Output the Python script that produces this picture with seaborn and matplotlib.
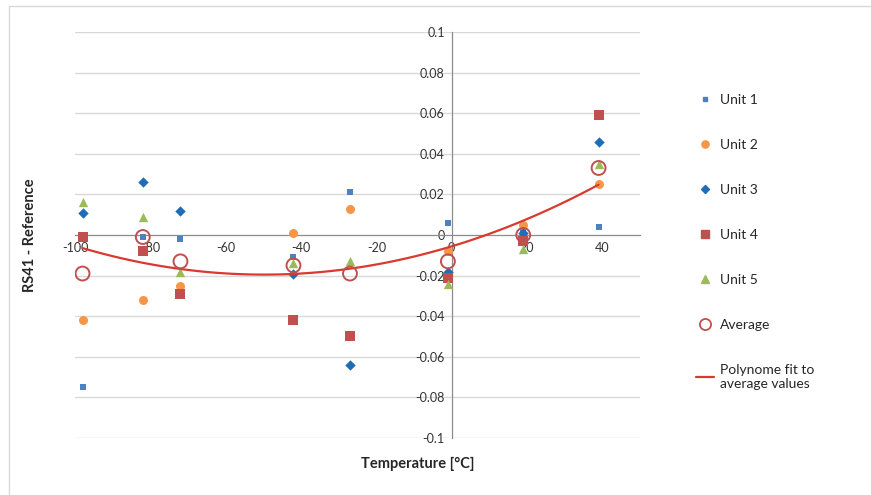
#RS41 minus reference vs temperature, 5 units + average + polynomial fit
import pandas as pd
import numpy as np
import matplotlib
matplotlib.use('Agg')
import matplotlib.pyplot as plt
import seaborn as sns
from matplotlib.patches import Rectangle
from matplotlib.lines import Line2D

sns.set_style('white')
plt.rcParams['font.family'] = ['Lato', 'DejaVu Sans']

temps = [-98, -82, -72, -42, -27, -1, 19, 39] #temperature steps in degC
unit1 = [-0.075, -0.001, -0.002, -0.011, 0.021, 0.006, 0.003, 0.004]
unit2 = [-0.042, -0.032, -0.025, 0.001, 0.013, -0.008, 0.005, 0.025]
unit3 = [0.011, 0.026, 0.012, -0.019, -0.064, -0.018, 0.001, 0.046]
unit4 = [-0.001, -0.008, -0.029, -0.042, -0.050, -0.021, -0.003, 0.059]
unit5 = [0.016, 0.009, -0.018, -0.014, -0.013, -0.024, -0.007, 0.035]
average = [-0.019, -0.001, -0.013, -0.015, -0.019, -0.013, 0.000, 0.033]
y_ticks = [-0.1, -0.08, -0.06, -0.04, -0.02, 0, 0.02, 0.04, 0.06, 0.08, 0.1]
y_labels = ['-0.1', '-0.08', '-0.06', '-0.04', '-0.02', '0', '0.02', '0.04', '0.06', '0.08', '0.1']
x_ticks = [-100, -80, -60, -40, -20, 0, 20, 40]

fig = plt.figure(figsize=(8.71, 4.95), dpi=100)
ax = fig.add_axes([0.0861, 0.1152, 0.6487, 0.8202])

#series: (name, values, marker, size, color)
series = [('Unit 1', unit1, 's', 18, '#4F81BD'),
          ('Unit 2', unit2, 'o', 42, '#F79646'),
          ('Unit 3', unit3, 'D', 28, '#1F6DB5'),
          ('Unit 4', unit4, 's', 55, '#C0504D'),
          ('Unit 5', unit5, '^', 45, '#9BBB59')]
for name, vals, mk, sz, col in series:
	sns.scatterplot(x=temps, y=vals, marker=mk, s=sz, color=col, edgecolor=col, linewidth=0, ax=ax, zorder=3)

#polynomial (2nd order) fit to the averages
sns.regplot(x=temps, y=average, order=2, scatter=False, ci=None, truncate=True, ax=ax,
	line_kws={'color': '#D9392F', 'lw': 1.6, 'zorder': 4})
sns.scatterplot(x=temps, y=average, marker='o', s=100, facecolor='none', edgecolor='#C0504D', linewidth=1.4, ax=ax, zorder=5)

ax.set_xlim(-100, 50)
ax.set_ylim(-0.1, 0.1)
for s in ['top', 'right']:
	ax.spines[s].set_visible(False)
ax.spines['left'].set_position(('data', 0))
ax.spines['bottom'].set_position(('data', 0))
for s in ['left', 'bottom']:
	ax.spines[s].set_color('#8C8C8C')
	ax.spines[s].set_linewidth(0.9)
ax.set_yticks(y_ticks)
ax.set_yticklabels(y_labels)
ax.set_xticks(x_ticks)
ax.set_xticklabels([str(t) for t in x_ticks])
ax.tick_params(axis='both', labelsize=9, colors='#8C8C8C', labelcolor='#333333', direction='inout', length=4, width=0.8)
ax.tick_params(axis='x', pad=3)
ax.tick_params(axis='y', pad=3)
for yv in y_ticks:
	if yv != 0:
		ax.axhline(yv, color='#D9D9D9', lw=1, zorder=0)
ax.set_xlabel('')
ax.set_ylabel('')

fig.text(0.0344, 0.525, 'RS41 - Reference', rotation=90, ha='center', va='center', fontsize=10.5, fontweight='bold', color='#262626')
fig.text(0.48, 0.063, 'Temperature [°C]', ha='center', va='center', fontsize=10.5, fontweight='bold', color='#262626')

handles = [Line2D([], [], ls='', marker=mk, markersize=np.sqrt(sz) * 0.8, color=col) for name, vals, mk, sz, col in series]
handles.append(Line2D([], [], ls='', marker='o', markersize=8, markerfacecolor='none', markeredgecolor='#C0504D', markeredgewidth=1.3))
handles.append(Line2D([], [], color='#D9392F', lw=1.6))
labels = [s[0] for s in series] + ['Average', 'Polynome fit to\naverage values']
fig.legend(handles, labels, loc='upper left', bbox_to_anchor=(0.785, 0.835), frameon=False, fontsize=10,
	labelspacing=2.37, handlelength=1.3, handletextpad=0.4)

fig.add_artist(Rectangle((9 / 871, -0.05), 1.0, 1 - 6 / 495 + 0.05, transform=fig.transFigure, fill=False, edgecolor='#D9D9D9', lw=1))

fig.savefig('out.png', dpi=100)
